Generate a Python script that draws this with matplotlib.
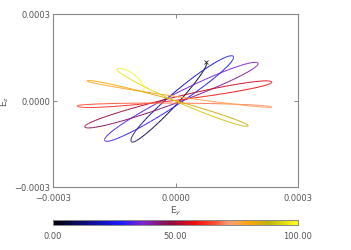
import numpy as np
import matplotlib
matplotlib.use('Agg')
import matplotlib.pyplot as plt
from matplotlib.collections import LineCollection
from matplotlib.colors import LinearSegmentedColormap, Normalize
from matplotlib.cm import ScalarMappable

# turning points of the Ey-Ez trace (units of 1e-4), first one is the start (x)
tip_ey = [0.75, -1.07, 1.41, -1.73, 2.02, -2.22, 2.36, -2.41, 2.36, -2.17, 1.78, -1.43, -0.80]
tip_ez = [1.34, -1.44, 1.54, -1.40, 1.30, -0.92, 0.64, -0.19, -0.23, 0.68, -0.88, 1.09, 0.33]
tip_time = [0, 12, 26, 31, 39, 47, 57, 65, 72, 80, 88, 97, 100]
# half width of the ellipse side between two turning points (1e-4)
side_width = [0.20, 0.30, 0.30, 0.32, 0.30, 0.27, 0.22, 0.12, 0.10, 0.16, 0.20, 0.20, 0.02]

axis_ticks = [-0.0003, 0.0, 0.0003]
axis_ticklabels = ['\u22120.0003', '0.0000', '0.0003']
cbar_ticks = [0, 50, 100]
cbar_ticklabels = ['0.00', '50.00', '100.00']

# colour table: black - blue - purple - red - orange - yellow
cmap = LinearSegmentedColormap.from_list('idl_like', [
    (0.00, (0.00, 0.00, 0.00)),
    (0.27, (0.10, 0.10, 1.00)),
    (0.37, (0.50, 0.15, 0.80)),
    (0.48, (0.55, 0.05, 0.25)),
    (0.58, (0.95, 0.05, 0.05)),
    (0.66, (1.00, 0.30, 0.20)),
    (0.72, (1.00, 0.62, 0.45)),
    (0.80, (1.00, 0.65, 0.05)),
    (0.88, (0.75, 0.70, 0.05)),
    (1.00, (1.00, 1.00, 0.10)),
])
norm = Normalize(0, 100)

# build the trace: half ellipses between successive turning points (clockwise)
xs, ys, ts = [], [], []
s = np.linspace(0, np.pi, 80)
for k in range(len(tip_ey) - 1):
    p = np.array([tip_ey[k], tip_ez[k]])
    q = np.array([tip_ey[k + 1], tip_ez[k + 1]])
    mid = (p + q) / 2
    u = (q - p) / 2
    n = np.array([-u[1], u[0]]) / np.hypot(*u)
    pts = mid[None, :] - u[None, :] * np.cos(s)[:, None] + n[None, :] * side_width[k] * np.sin(s)[:, None]
    xs.append(pts[:, 0]); ys.append(pts[:, 1])
    ts.append(tip_time[k] + (tip_time[k + 1] - tip_time[k]) * s / np.pi)
x = np.concatenate(xs) * 1e-4
y = np.concatenate(ys) * 1e-4
t = np.concatenate(ts)

grey = '#555555'
fig = plt.figure(figsize=(3.51, 2.51), dpi=100)
ax = fig.add_axes([53 / 351, 1 - 188 / 251, 245 / 351, 173 / 251])

points = np.column_stack([x, y]).reshape(-1, 1, 2)
segs = np.concatenate([points[:-1], points[1:]], axis=1)
lc = LineCollection(segs, cmap=cmap, norm=norm, linewidth=0.7)
lc.set_array((t[:-1] + t[1:]) / 2)
ax.add_collection(lc)
ax.plot(tip_ey[0] * 1e-4, tip_ez[0] * 1e-4, marker='x', ms=3.5, mew=0.6, color='#333333')

ax.set_xlim(-0.0003, 0.0003)
ax.set_ylim(-0.0003, 0.0003)
ax.set_xticks(axis_ticks)
ax.set_xticklabels(axis_ticklabels)
ax.set_yticks(axis_ticks)
ax.set_yticklabels(axis_ticklabels)
ax.tick_params(direction='in', length=3, width=0.7, colors='#888888', labelcolor=grey,
               labelsize=6, top=True, right=True, pad=4)
ax.tick_params(axis='y', pad=2)
for sp in ax.spines.values():
    sp.set_color('#888888')
    sp.set_linewidth(0.8)
ax.set_xlabel('E$_y$', fontsize=6.5, color=grey, labelpad=2)
ax.set_ylabel('E$_z$', fontsize=6.5, color=grey)
ax.yaxis.set_label_coords(-0.17, 0.5)

cax = fig.add_axes([53 / 351, 1 - 226 / 251, 245 / 351, 5 / 251])
cb = fig.colorbar(ScalarMappable(norm=norm, cmap=cmap), cax=cax, orientation='horizontal')
cb.set_ticks(cbar_ticks)
cb.set_ticklabels(cbar_ticklabels)
cb.outline.set_edgecolor('#888888')
cb.outline.set_linewidth(0.7)
cax.tick_params(length=0, labelsize=6, labelcolor=grey, pad=4)

fig.savefig('out.png', dpi=100)
